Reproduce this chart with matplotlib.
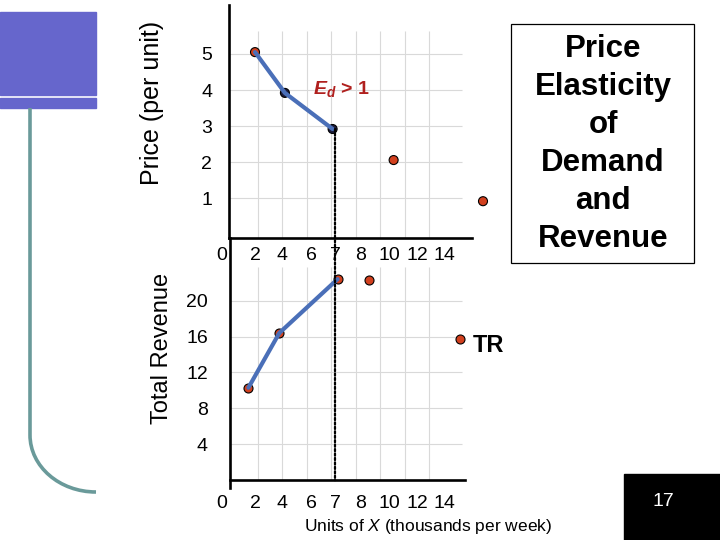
import numpy as np
import matplotlib
matplotlib.use('Agg')
import matplotlib.pyplot as plt
from matplotlib.patches import Rectangle, PathPatch, ConnectionPatch
from matplotlib.path import Path

plt.rcParams['font.family'] = ['Liberation Sans', 'DejaVu Sans']
plt.rcParams['mathtext.fontset'] = 'custom'
plt.rcParams['mathtext.rm'] = 'Liberation Sans'
plt.rcParams['mathtext.it'] = 'Liberation Sans:italic'
plt.rcParams['mathtext.bf'] = 'Liberation Sans:bold'
plt.rcParams['mathtext.bfit'] = 'Liberation Sans:italic:bold'

# values
qty_ticks = [0, 2, 4, 6, 7, 8, 10, 12, 14]
qty_labels = [str(q) for q in qty_ticks]
price_ticks = [1, 2, 3, 4, 5]
rev_ticks = [4, 8, 12, 16, 20]

qty_price = [2.0, 4.2, 6.9, 10.3, 16.8]     # demand panel
price = [5.05, 3.92, 2.92, 2.06, 0.92]
qty_rev = [1.6, 3.8, 7.1, 8.6, 15.1]        # revenue panel
revenue = [10.3, 16.4, 22.4, 22.3, 15.7]
q_unit = 7                                  # dotted marker

W, H = 720, 540
def fx(px):
    return px / W
def fy(py):
    return 1 - py / H

# the slide's quantity axis is not evenly spaced -> piecewise scale (label pixel positions)
tick_px = [222, 255, 282, 311, 335, 360.5, 389.5, 417, 444.5]
qk = [-10] + qty_ticks + [30]
pk = [222 - 10 * 16.5] + tick_px + [444.5 + 16 * 13.75]
def fwd(q):
    return np.interp(q, qk, pk)
def inv(p):
    return np.interp(p, pk, qk)

red = '#d2401e'
blue = '#4a6fb8'
gridc = '#d9d9d9'
grid_px = 257.7 + 24.5 * np.arange(8)
tick_fs = 14

fig = plt.figure(figsize=(7.2, 5.4), dpi=100)

# ---- price panel
ax1 = fig.add_axes([fx(210), fy(237.7), fx(471.7) - fx(210), (237.7 - 5) / H])
ax1.set_xscale('function', functions=(fwd, inv))
ax1.set_xlim(inv(210), inv(471.7))
ax1.set_ylim(-0.091, 6.355)
ax1.patch.set_alpha(0)
ax1.spines['top'].set_visible(False)
ax1.spines['right'].set_visible(False)
ax1.spines['left'].set_position(('data', inv(229)))
ax1.spines['bottom'].set_bounds(inv(229), inv(471.7))
for s in ['left', 'bottom']:
    ax1.spines[s].set_linewidth(1.9)
ax1.set_xticks(qty_ticks, qty_labels)
ax1.set_yticks(price_ticks)
ax1.tick_params(length=0, labelsize=tick_fs)
ax1.tick_params(axis='x', pad=7)
ax1.tick_params(axis='y', pad=12)
ax1.vlines(inv(grid_px), -0.09, 5.63, color=gridc, lw=0.8, zorder=0)
ax1.hlines(price_ticks, inv(229), inv(461.7), color=gridc, lw=0.8, zorder=0)
top_colors = [red, '#1c1c3c', '#1c1c3c', red, red]
ax1.scatter(qty_price, price, s=42, c=top_colors, edgecolors='black',
            linewidths=0.8, zorder=3, clip_on=False)
ax1.plot(qty_price[:3], price[:3], color=blue, lw=3, zorder=4, solid_capstyle='round')

# ---- revenue panel
ax2 = fig.add_axes([fx(210), fy(488), fx(465) - fx(210), (488 - 237.7) / H])
ax2.set_xscale('function', functions=(fwd, inv))
ax2.set_xlim(inv(210), inv(465))
ax2.set_ylim(-0.87, 27.02)
ax2.patch.set_alpha(0)
ax2.spines['top'].set_visible(False)
ax2.spines['right'].set_visible(False)
ax2.spines['left'].set_position(('data', inv(230)))
ax2.spines['bottom'].set_position(('data', 0))
ax2.spines['bottom'].set_bounds(inv(230), inv(465))
for s in ['left', 'bottom']:
    ax2.spines[s].set_linewidth(1.9)
ax2.set_xticks(qty_ticks, qty_labels)
ax2.set_yticks(rev_ticks)
ax2.tick_params(length=0, labelsize=tick_fs)
ax2.tick_params(axis='x', pad=11)
ax2.tick_params(axis='y', pad=16)
ax2.vlines(inv(grid_px), 0, 23.8, color=gridc, lw=0.8, zorder=0)
ax2.hlines(rev_ticks, inv(230), inv(461.7), color=gridc, lw=0.8, zorder=0)
ax2.scatter(qty_rev, revenue, s=42, c=red, edgecolors='black',
            linewidths=0.8, zorder=3, clip_on=False)
ax2.plot(qty_rev[:3], revenue[:3], color=blue, lw=3, zorder=4, solid_capstyle='round')

# dotted marker from the unit-elastic point down to the revenue axis
con = ConnectionPatch(xyA=(q_unit, price[2]), coordsA=ax1.transData,
                      xyB=(q_unit, 0), coordsB=ax2.transData,
                      color='black', lw=1.6, linestyle=(0, (1, 1)), zorder=5)
fig.add_artist(con)

# text
fig.text(fx(152), fy(103), 'Price (per unit)', rotation=90, ha='center', va='center', fontsize=18)
fig.text(fx(161.5), fy(348), 'Total Revenue', rotation=90, ha='center', va='center', fontsize=17)
fig.text(fx(428.5), fy(527), r'Units of $\mathit{X}$ (thousands per week)',
         ha='center', va='center', fontsize=12.5)
fig.text(fx(313), fy(89), r'$\mathbfit{E}_{\mathbfit{d}}$ > 1', fontsize=14,
         fontweight='bold', color='#b0201e', ha='left', va='center')
fig.text(fx(473), fy(345), 'TR', fontsize=17, fontweight='bold', ha='left', va='center')

fig.add_artist(Rectangle((fx(510.7), fy(263.3)), (694 - 510.7) / W, (263.3 - 24) / H,
                         fill=False, ec='black', lw=0.9, transform=fig.transFigure))
fig.text(fx(603), fy(144), 'Price\nElasticity\nof\nDemand\nand\nRevenue',
         ha='center', va='center', fontsize=22.5, fontweight='bold',
         linespacing=1.34, multialignment='center')

# slide decoration
fig.add_artist(Rectangle((0, fy(95)), 96 / W, 83 / H, color='#6666cc', transform=fig.transFigure))
fig.add_artist(Rectangle((0, fy(108)), 96 / W, 10 / H, color='#6666cc', transform=fig.transFigure))
verts = [(30, 108), (30, 435), (30, 466.5), (59.6, 492), (96, 492)]
codes = [Path.MOVETO, Path.LINETO, Path.CURVE4, Path.CURVE4, Path.CURVE4]
path = Path([(fx(x), fy(y)) for x, y in verts], codes)
fig.add_artist(PathPatch(path, fill=False, ec='#6a9a9a', lw=2.6, transform=fig.transFigure))

fig.add_artist(Rectangle((fx(624), 0), (W - 624) / W, 66 / H, color='black', transform=fig.transFigure))
fig.text(fx(663), fy(501), '17', color='white', ha='center', va='center', fontsize=14)

fig.savefig('out.png', dpi=100)
